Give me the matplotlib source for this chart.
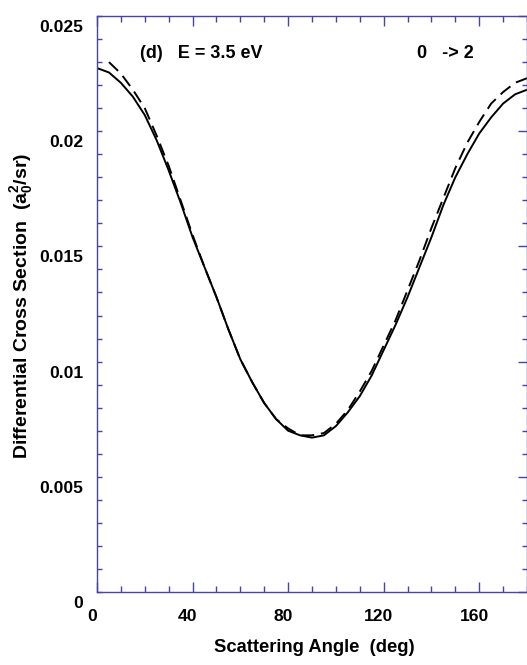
import matplotlib
matplotlib.use('Agg')
import matplotlib.pyplot as plt
from matplotlib.ticker import MultipleLocator
import matplotlib.transforms as mtransforms

# ---- data ----
theta_solid = [0, 5, 10, 15, 20, 25, 30, 35, 40, 45, 50, 55, 60, 65, 70, 75, 80, 85, 90,
               95, 100, 105, 110, 115, 120, 125, 130, 135, 140, 145, 150, 155, 160, 165,
               170, 175, 180]
dcs_solid = [0.02274, 0.02255, 0.0221, 0.0215, 0.0207, 0.0196, 0.0183, 0.0169, 0.0154,
             0.0141, 0.0128, 0.0114, 0.0101, 0.0091, 0.0082, 0.0075, 0.0070, 0.0068,
             0.0067, 0.0068, 0.0072, 0.0078, 0.0085, 0.0094, 0.0105, 0.0116, 0.0128,
             0.0141, 0.0154, 0.0168, 0.0180, 0.0190, 0.0199, 0.0206, 0.0212, 0.0216,
             0.0218]

theta_dashed = [5, 10, 15, 20, 25, 30, 35, 40, 45, 50, 55, 60, 65, 70, 75, 80, 85, 90,
                95, 100, 105, 110, 115, 120, 125, 130, 135, 140, 145, 150, 155, 160, 165,
                170, 175, 180]
dcs_dashed = [0.0230, 0.0225, 0.0218, 0.0210, 0.0198, 0.0185, 0.0170, 0.0155, 0.0141,
              0.0128, 0.0114, 0.0101, 0.0091, 0.0082, 0.0075, 0.0071, 0.0068, 0.0068,
              0.0069, 0.0073, 0.0079, 0.0087, 0.0096, 0.0107, 0.0118, 0.0131, 0.0144,
              0.0158, 0.0171, 0.0184, 0.0195, 0.0204, 0.0212, 0.0217, 0.0221, 0.0223]

xticks = [0, 40, 80, 120, 160]
xtick_labels = ['0', '40', '80', '120', '160']
yticks = [0, 0.005, 0.01, 0.015, 0.02, 0.025]
ytick_labels = ['0', '0.005', '0.01', '0.015', '0.02', '0.025']

panel_text = '(d)   E = 3.5 eV'
transition_text = '0   -> 2'
xlabel = 'Scattering Angle  (deg)'
ylabel = r'Differential Cross Section  ($\mathregular{a_0^2}$/sr)'

# ---- style ----
plt.rcParams['font.family'] = ['Liberation Sans', 'DejaVu Sans']
plt.rcParams['font.weight'] = 'bold'
FS = 12.6
spine_color = '#4646a0'

W, H = 527, 665
fig = plt.figure(figsize=(W / 100, H / 100), dpi=100)
ax = fig.add_axes([97 / W, 73 / H, 430 / W, 576 / H])

ax.plot(theta_solid, dcs_solid, color='black', lw=1.4, solid_capstyle='butt')
ax.plot(theta_dashed, dcs_dashed, color='black', lw=1.4, linestyle=(0, (6.5, 3.5)),
        dash_capstyle='butt')

ax.set_xlim(0, 180)
ax.set_ylim(0, 0.025)

for s in ax.spines.values():
    s.set_color(spine_color)
    s.set_linewidth(1.0)

ax.set_xticks(xticks, xtick_labels)
ax.set_yticks(yticks, ytick_labels)
ax.xaxis.set_minor_locator(MultipleLocator(10))
ax.yaxis.set_minor_locator(MultipleLocator(0.001))

ax.tick_params(axis='x', which='major', direction='in', length=7, width=1.0,
               color=spine_color, top=True, bottom=True, pad=12.5, labelsize=FS,
               labelcolor='black')
ax.tick_params(axis='x', which='minor', direction='in', length=4, width=1.0,
               color=spine_color, top=True, bottom=True)
ax.tick_params(axis='y', which='both', direction='in', length=3.6, width=1.0,
               color=spine_color, left=True, right=False, pad=10, labelsize=FS,
               labelcolor='black')

# right-hand ticks (longer majors than on the left)
axr = ax.twinx()
axr.set_ylim(0, 0.025)
axr.set_yticks(yticks)
axr.yaxis.set_minor_locator(MultipleLocator(0.001))
axr.tick_params(axis='y', which='major', direction='in', length=6.5, width=1.0,
                color=spine_color, labelright=False)
axr.tick_params(axis='y', which='minor', direction='in', length=3.6, width=1.0,
                color=spine_color)
for s in axr.spines.values():
    s.set_visible(False)

# label offsets as in the reference
dy = mtransforms.ScaledTranslation(0, -10 / 100, fig.dpi_scale_trans)
dx = mtransforms.ScaledTranslation(-4.7 / 100, 0, fig.dpi_scale_trans)
for lab in ax.get_yticklabels():
    lab.set_transform(lab.get_transform() + dy)
    lab.set_fontweight('bold')
for lab in ax.get_xticklabels():
    lab.set_transform(lab.get_transform() + dx)
    lab.set_fontweight('bold')

fig.text(140 / W, 1 - 53 / H, panel_text, ha='left', va='center', fontsize=13,
         fontweight='bold')
fig.text(417 / W, 1 - 53 / H, transition_text, ha='left', va='center', fontsize=13,
         fontweight='bold')

fig.text(314 / W, 1 - 648 / H, xlabel, ha='center', va='center', fontsize=13.2,
         fontweight='bold')
fig.text(22 / W, 1 - 306 / H, ylabel, ha='center', va='center', rotation=90,
         fontsize=14, fontweight='bold')

fig.savefig('out.png', dpi=100)
